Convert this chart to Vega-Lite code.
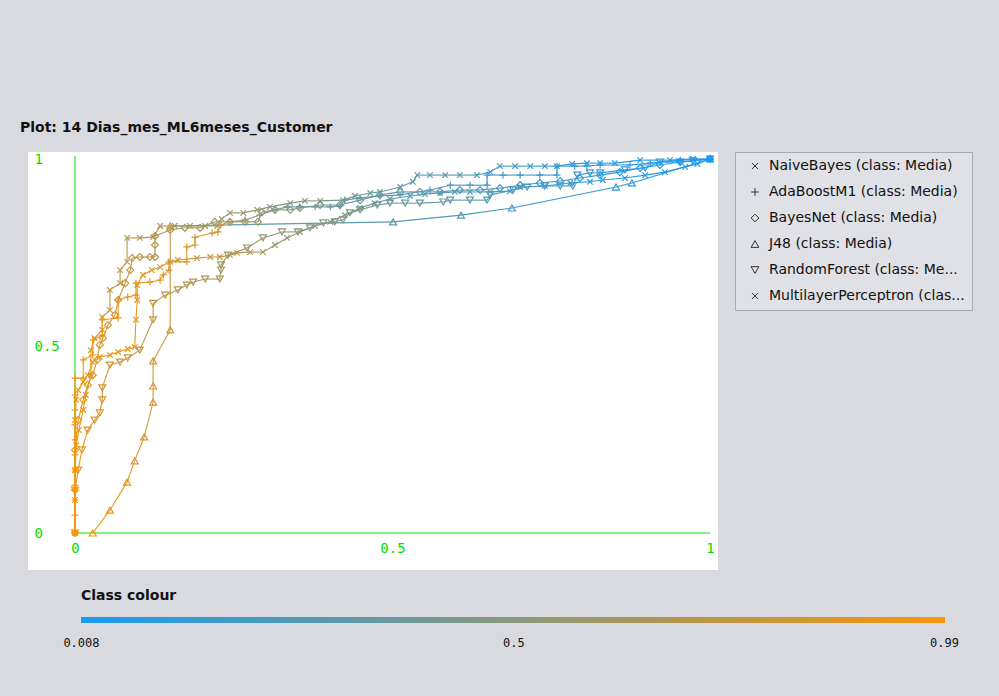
{
  "$schema": "https://vega.github.io/schema/vega-lite/v6.json",
  "autosize": {"type": "none"},
  "padding": {"left": 28, "top": 152, "right": 281, "bottom": 126},
  "width": 690,
  "height": 418,
  "background": "#d8dadf",
  "title": {"text": "Plot: 14 Dias_mes_ML6meses_Customer", "anchor": "start", "frame": "group", "dx": -8, "offset": 3, "font": "DejaVu Sans", "fontSize": 14, "fontWeight": "bold", "color": "#111111", "baseline": "bottom"},
  "config": {
    "view": {"fill": "#ffffff", "stroke": null},
    "axisX": {"offset": -37, "domain": false, "ticks": false, "tickSize": 0, "grid": false, "labelPadding": 8, "labelFont": "DejaVu Sans Mono", "labelFontSize": 14, "labelColor": "#00e000", "labelFlush": false, "labelBaseline": "top"},
    "axisY": {"offset": -47, "domain": false, "ticks": false, "tickSize": 0, "grid": false, "labelAlign": "left", "labelPadding": 41, "labelBaseline": "middle", "labelFont": "DejaVu Sans Mono", "labelFontSize": 14, "labelColor": "#00e000", "labelFlush": false}
  },
  "datasets": {
    "roc": [
      {"c":"NaiveBayes","x":0,"y":0,"t":0.99},{"c":"NaiveBayes","x":0,"y":0.088,"t":0.98},{"c":"NaiveBayes","x":0,"y":0.168,"t":0.97},{"c":"NaiveBayes","x":0.002,"y":0.235,"t":0.96},{"c":"NaiveBayes","x":0.006,"y":0.275,"t":0.95},{"c":"NaiveBayes","x":0.013,"y":0.329,"t":0.93},{"c":"NaiveBayes","x":0.017,"y":0.369,"t":0.91},{"c":"NaiveBayes","x":0.025,"y":0.422,"t":0.89},{"c":"NaiveBayes","x":0.025,"y":0.489,"t":0.87},{"c":"NaiveBayes","x":0.031,"y":0.521,"t":0.85},{"c":"NaiveBayes","x":0.043,"y":0.543,"t":0.83},{"c":"NaiveBayes","x":0.043,"y":0.578,"t":0.82},{"c":"NaiveBayes","x":0.055,"y":0.596,"t":0.8},{"c":"NaiveBayes","x":0.055,"y":0.65,"t":0.78},{"c":"NaiveBayes","x":0.071,"y":0.668,"t":0.76},{"c":"NaiveBayes","x":0.071,"y":0.703,"t":0.74},{"c":"NaiveBayes","x":0.082,"y":0.725,"t":0.72},{"c":"NaiveBayes","x":0.082,"y":0.789,"t":0.7},{"c":"NaiveBayes","x":0.102,"y":0.789,"t":0.69},{"c":"NaiveBayes","x":0.123,"y":0.791,"t":0.68},{"c":"NaiveBayes","x":0.134,"y":0.821,"t":0.66},{"c":"NaiveBayes","x":0.157,"y":0.821,"t":0.65},{"c":"NaiveBayes","x":0.181,"y":0.821,"t":0.64},{"c":"NaiveBayes","x":0.205,"y":0.821,"t":0.62},{"c":"NaiveBayes","x":0.224,"y":0.821,"t":0.61},{"c":"NaiveBayes","x":0.231,"y":0.84,"t":0.6},{"c":"NaiveBayes","x":0.244,"y":0.856,"t":0.58},{"c":"NaiveBayes","x":0.265,"y":0.856,"t":0.57},{"c":"NaiveBayes","x":0.287,"y":0.864,"t":0.55},{"c":"NaiveBayes","x":0.307,"y":0.872,"t":0.53},{"c":"NaiveBayes","x":0.339,"y":0.882,"t":0.5},{"c":"NaiveBayes","x":0.362,"y":0.888,"t":0.48},{"c":"NaiveBayes","x":0.386,"y":0.888,"t":0.46},{"c":"NaiveBayes","x":0.422,"y":0.89,"t":0.43},{"c":"NaiveBayes","x":0.441,"y":0.901,"t":0.41},{"c":"NaiveBayes","x":0.465,"y":0.909,"t":0.39},{"c":"NaiveBayes","x":0.48,"y":0.912,"t":0.37},{"c":"NaiveBayes","x":0.512,"y":0.925,"t":0.34},{"c":"NaiveBayes","x":0.532,"y":0.939,"t":0.32},{"c":"NaiveBayes","x":0.539,"y":0.957,"t":0.31},{"c":"NaiveBayes","x":0.559,"y":0.957,"t":0.3},{"c":"NaiveBayes","x":0.583,"y":0.957,"t":0.28},{"c":"NaiveBayes","x":0.606,"y":0.957,"t":0.26},{"c":"NaiveBayes","x":0.633,"y":0.957,"t":0.24},{"c":"NaiveBayes","x":0.654,"y":0.965,"t":0.22},{"c":"NaiveBayes","x":0.669,"y":0.981,"t":0.2},{"c":"NaiveBayes","x":0.693,"y":0.981,"t":0.18},{"c":"NaiveBayes","x":0.717,"y":0.981,"t":0.16},{"c":"NaiveBayes","x":0.74,"y":0.981,"t":0.14},{"c":"NaiveBayes","x":0.759,"y":0.981,"t":0.13},{"c":"NaiveBayes","x":0.783,"y":0.987,"t":0.11},{"c":"NaiveBayes","x":0.806,"y":0.989,"t":0.09},{"c":"NaiveBayes","x":0.827,"y":0.989,"t":0.08},{"c":"NaiveBayes","x":0.85,"y":0.989,"t":0.07},{"c":"NaiveBayes","x":0.89,"y":0.997,"t":0.05},{"c":"NaiveBayes","x":0.937,"y":0.997,"t":0.04},{"c":"NaiveBayes","x":0.973,"y":1,"t":0.03},{"c":"NaiveBayes","x":1,"y":1,"t":0.01},
      {"c":"BayesNet","x":0,"y":0,"t":0.99},{"c":"BayesNet","x":0,"y":0.115,"t":0.98},{"c":"BayesNet","x":0,"y":0.222,"t":0.97},{"c":"BayesNet","x":0.005,"y":0.302,"t":0.95},{"c":"BayesNet","x":0.013,"y":0.356,"t":0.93},{"c":"BayesNet","x":0.02,"y":0.396,"t":0.91},{"c":"BayesNet","x":0.028,"y":0.422,"t":0.9},{"c":"BayesNet","x":0.035,"y":0.463,"t":0.88},{"c":"BayesNet","x":0.039,"y":0.503,"t":0.86},{"c":"BayesNet","x":0.044,"y":0.521,"t":0.85},{"c":"BayesNet","x":0.052,"y":0.556,"t":0.83},{"c":"BayesNet","x":0.063,"y":0.583,"t":0.81},{"c":"BayesNet","x":0.068,"y":0.623,"t":0.79},{"c":"BayesNet","x":0.079,"y":0.668,"t":0.77},{"c":"BayesNet","x":0.087,"y":0.703,"t":0.75},{"c":"BayesNet","x":0.09,"y":0.735,"t":0.74},{"c":"BayesNet","x":0.102,"y":0.738,"t":0.73},{"c":"BayesNet","x":0.118,"y":0.738,"t":0.72},{"c":"BayesNet","x":0.126,"y":0.738,"t":0.71},{"c":"BayesNet","x":0.126,"y":0.77,"t":0.7},{"c":"BayesNet","x":0.126,"y":0.794,"t":0.69},{"c":"BayesNet","x":0.15,"y":0.81,"t":0.67},{"c":"BayesNet","x":0.173,"y":0.816,"t":0.65},{"c":"BayesNet","x":0.197,"y":0.816,"t":0.63},{"c":"BayesNet","x":0.22,"y":0.832,"t":0.61},{"c":"BayesNet","x":0.244,"y":0.832,"t":0.6},{"c":"BayesNet","x":0.268,"y":0.832,"t":0.58},{"c":"BayesNet","x":0.288,"y":0.832,"t":0.56},{"c":"BayesNet","x":0.294,"y":0.858,"t":0.55},{"c":"BayesNet","x":0.315,"y":0.864,"t":0.53},{"c":"BayesNet","x":0.339,"y":0.864,"t":0.51},{"c":"BayesNet","x":0.354,"y":0.869,"t":0.5},{"c":"BayesNet","x":0.386,"y":0.877,"t":0.47},{"c":"BayesNet","x":0.417,"y":0.877,"t":0.44},{"c":"BayesNet","x":0.449,"y":0.89,"t":0.41},{"c":"BayesNet","x":0.48,"y":0.904,"t":0.38},{"c":"BayesNet","x":0.512,"y":0.912,"t":0.35},{"c":"BayesNet","x":0.543,"y":0.912,"t":0.32},{"c":"BayesNet","x":0.575,"y":0.912,"t":0.3},{"c":"BayesNet","x":0.606,"y":0.917,"t":0.27},{"c":"BayesNet","x":0.638,"y":0.917,"t":0.25},{"c":"BayesNet","x":0.669,"y":0.922,"t":0.22},{"c":"BayesNet","x":0.701,"y":0.93,"t":0.19},{"c":"BayesNet","x":0.732,"y":0.936,"t":0.17},{"c":"BayesNet","x":0.764,"y":0.941,"t":0.15},{"c":"BayesNet","x":0.795,"y":0.949,"t":0.12},{"c":"BayesNet","x":0.827,"y":0.957,"t":0.1},{"c":"BayesNet","x":0.858,"y":0.965,"t":0.08},{"c":"BayesNet","x":0.89,"y":0.976,"t":0.06},{"c":"BayesNet","x":0.921,"y":0.984,"t":0.05},{"c":"BayesNet","x":0.953,"y":0.992,"t":0.03},{"c":"BayesNet","x":1,"y":1,"t":0.01},
      {"c":"AdaBoostM1","x":0,"y":0,"t":0.99},{"c":"AdaBoostM1","x":0,"y":0.048,"t":0.988},{"c":"AdaBoostM1","x":0,"y":0.088,"t":0.986},{"c":"AdaBoostM1","x":0,"y":0.128,"t":0.984},{"c":"AdaBoostM1","x":0,"y":0.168,"t":0.982},{"c":"AdaBoostM1","x":0,"y":0.209,"t":0.98},{"c":"AdaBoostM1","x":0,"y":0.249,"t":0.978},{"c":"AdaBoostM1","x":0,"y":0.289,"t":0.976},{"c":"AdaBoostM1","x":0,"y":0.329,"t":0.974},{"c":"AdaBoostM1","x":0,"y":0.369,"t":0.972},{"c":"AdaBoostM1","x":0,"y":0.414,"t":0.97},{"c":"AdaBoostM1","x":0.013,"y":0.414,"t":0.965},{"c":"AdaBoostM1","x":0.013,"y":0.463,"t":0.96},{"c":"AdaBoostM1","x":0.028,"y":0.476,"t":0.955},{"c":"AdaBoostM1","x":0.028,"y":0.516,"t":0.95},{"c":"AdaBoostM1","x":0.043,"y":0.529,"t":0.945},{"c":"AdaBoostM1","x":0.043,"y":0.57,"t":0.94},{"c":"AdaBoostM1","x":0.068,"y":0.575,"t":0.935},{"c":"AdaBoostM1","x":0.068,"y":0.623,"t":0.93},{"c":"AdaBoostM1","x":0.083,"y":0.631,"t":0.925},{"c":"AdaBoostM1","x":0.096,"y":0.636,"t":0.92},{"c":"AdaBoostM1","x":0.096,"y":0.668,"t":0.915},{"c":"AdaBoostM1","x":0.118,"y":0.671,"t":0.91},{"c":"AdaBoostM1","x":0.134,"y":0.676,"t":0.905},{"c":"AdaBoostM1","x":0.139,"y":0.69,"t":0.9},{"c":"AdaBoostM1","x":0.148,"y":0.703,"t":0.895},{"c":"AdaBoostM1","x":0.148,"y":0.725,"t":0.89},{"c":"AdaBoostM1","x":0.176,"y":0.725,"t":0.88},{"c":"AdaBoostM1","x":0.176,"y":0.765,"t":0.87},{"c":"AdaBoostM1","x":0.189,"y":0.77,"t":0.86},{"c":"AdaBoostM1","x":0.189,"y":0.791,"t":0.85},{"c":"AdaBoostM1","x":0.216,"y":0.802,"t":0.83},{"c":"AdaBoostM1","x":0.225,"y":0.805,"t":0.82},{"c":"AdaBoostM1","x":0.23,"y":0.824,"t":0.8},{"c":"AdaBoostM1","x":0.244,"y":0.832,"t":0.7},{"c":"AdaBoostM1","x":0.268,"y":0.837,"t":0.6},{"c":"AdaBoostM1","x":0.291,"y":0.85,"t":0.5},{"c":"AdaBoostM1","x":0.315,"y":0.864,"t":0.45},{"c":"AdaBoostM1","x":0.334,"y":0.872,"t":0.4},{"c":"AdaBoostM1","x":0.354,"y":0.872,"t":0.38},{"c":"AdaBoostM1","x":0.378,"y":0.872,"t":0.37},{"c":"AdaBoostM1","x":0.402,"y":0.872,"t":0.36},{"c":"AdaBoostM1","x":0.417,"y":0.874,"t":0.35},{"c":"AdaBoostM1","x":0.425,"y":0.89,"t":0.33},{"c":"AdaBoostM1","x":0.449,"y":0.896,"t":0.31},{"c":"AdaBoostM1","x":0.48,"y":0.901,"t":0.29},{"c":"AdaBoostM1","x":0.512,"y":0.904,"t":0.27},{"c":"AdaBoostM1","x":0.559,"y":0.917,"t":0.25},{"c":"AdaBoostM1","x":0.591,"y":0.93,"t":0.23},{"c":"AdaBoostM1","x":0.622,"y":0.93,"t":0.21},{"c":"AdaBoostM1","x":0.649,"y":0.93,"t":0.2},{"c":"AdaBoostM1","x":0.649,"y":0.957,"t":0.19},{"c":"AdaBoostM1","x":0.674,"y":0.957,"t":0.18},{"c":"AdaBoostM1","x":0.701,"y":0.957,"t":0.17},{"c":"AdaBoostM1","x":0.732,"y":0.957,"t":0.16},{"c":"AdaBoostM1","x":0.759,"y":0.957,"t":0.15},{"c":"AdaBoostM1","x":0.759,"y":0.981,"t":0.14},{"c":"AdaBoostM1","x":0.787,"y":0.981,"t":0.13},{"c":"AdaBoostM1","x":0.806,"y":0.981,"t":0.12},{"c":"AdaBoostM1","x":0.827,"y":0.984,"t":0.1},{"c":"AdaBoostM1","x":0.874,"y":0.984,"t":0.08},{"c":"AdaBoostM1","x":0.906,"y":0.989,"t":0.06},{"c":"AdaBoostM1","x":0.953,"y":0.997,"t":0.04},{"c":"AdaBoostM1","x":1,"y":1,"t":0.01},
      {"c":"J48","x":0.028,"y":0,"t":0.99},{"c":"J48","x":0.055,"y":0.061,"t":0.95},{"c":"J48","x":0.082,"y":0.136,"t":0.9},{"c":"J48","x":0.094,"y":0.193,"t":0.87},{"c":"J48","x":0.109,"y":0.257,"t":0.85},{"c":"J48","x":0.123,"y":0.35,"t":0.83},{"c":"J48","x":0.123,"y":0.393,"t":0.82},{"c":"J48","x":0.123,"y":0.46,"t":0.81},{"c":"J48","x":0.15,"y":0.543,"t":0.78},{"c":"J48","x":0.15,"y":0.821,"t":0.75},{"c":"J48","x":0.501,"y":0.832,"t":0.3},{"c":"J48","x":0.608,"y":0.85,"t":0.25},{"c":"J48","x":0.688,"y":0.869,"t":0.2},{"c":"J48","x":0.852,"y":0.925,"t":0.12},{"c":"J48","x":0.877,"y":0.936,"t":0.1},{"c":"J48","x":1,"y":1,"t":0.01},
      {"c":"MultilayerPerceptron","x":0,"y":0,"t":0.99},{"c":"MultilayerPerceptron","x":0,"y":0.168,"t":0.985},{"c":"MultilayerPerceptron","x":0,"y":0.302,"t":0.98},{"c":"MultilayerPerceptron","x":0.002,"y":0.356,"t":0.975},{"c":"MultilayerPerceptron","x":0.005,"y":0.382,"t":0.97},{"c":"MultilayerPerceptron","x":0.013,"y":0.404,"t":0.965},{"c":"MultilayerPerceptron","x":0.02,"y":0.422,"t":0.96},{"c":"MultilayerPerceptron","x":0.028,"y":0.457,"t":0.955},{"c":"MultilayerPerceptron","x":0.039,"y":0.471,"t":0.95},{"c":"MultilayerPerceptron","x":0.055,"y":0.476,"t":0.945},{"c":"MultilayerPerceptron","x":0.068,"y":0.484,"t":0.94},{"c":"MultilayerPerceptron","x":0.083,"y":0.492,"t":0.935},{"c":"MultilayerPerceptron","x":0.094,"y":0.497,"t":0.93},{"c":"MultilayerPerceptron","x":0.096,"y":0.57,"t":0.92},{"c":"MultilayerPerceptron","x":0.098,"y":0.623,"t":0.91},{"c":"MultilayerPerceptron","x":0.098,"y":0.663,"t":0.9},{"c":"MultilayerPerceptron","x":0.107,"y":0.69,"t":0.89},{"c":"MultilayerPerceptron","x":0.121,"y":0.703,"t":0.88},{"c":"MultilayerPerceptron","x":0.134,"y":0.711,"t":0.87},{"c":"MultilayerPerceptron","x":0.15,"y":0.725,"t":0.86},{"c":"MultilayerPerceptron","x":0.162,"y":0.73,"t":0.84},{"c":"MultilayerPerceptron","x":0.192,"y":0.735,"t":0.8},{"c":"MultilayerPerceptron","x":0.213,"y":0.738,"t":0.77},{"c":"MultilayerPerceptron","x":0.228,"y":0.738,"t":0.75},{"c":"MultilayerPerceptron","x":0.244,"y":0.743,"t":0.72},{"c":"MultilayerPerceptron","x":0.255,"y":0.749,"t":0.7},{"c":"MultilayerPerceptron","x":0.276,"y":0.751,"t":0.67},{"c":"MultilayerPerceptron","x":0.296,"y":0.751,"t":0.64},{"c":"MultilayerPerceptron","x":0.315,"y":0.77,"t":0.6},{"c":"MultilayerPerceptron","x":0.334,"y":0.789,"t":0.56},{"c":"MultilayerPerceptron","x":0.354,"y":0.805,"t":0.52},{"c":"MultilayerPerceptron","x":0.378,"y":0.821,"t":0.49},{"c":"MultilayerPerceptron","x":0.402,"y":0.832,"t":0.46},{"c":"MultilayerPerceptron","x":0.425,"y":0.85,"t":0.43},{"c":"MultilayerPerceptron","x":0.449,"y":0.869,"t":0.4},{"c":"MultilayerPerceptron","x":0.472,"y":0.882,"t":0.37},{"c":"MultilayerPerceptron","x":0.496,"y":0.893,"t":0.34},{"c":"MultilayerPerceptron","x":0.528,"y":0.901,"t":0.31},{"c":"MultilayerPerceptron","x":0.551,"y":0.906,"t":0.29},{"c":"MultilayerPerceptron","x":0.575,"y":0.909,"t":0.27},{"c":"MultilayerPerceptron","x":0.598,"y":0.912,"t":0.25},{"c":"MultilayerPerceptron","x":0.622,"y":0.912,"t":0.23},{"c":"MultilayerPerceptron","x":0.654,"y":0.912,"t":0.21},{"c":"MultilayerPerceptron","x":0.685,"y":0.914,"t":0.19},{"c":"MultilayerPerceptron","x":0.701,"y":0.925,"t":0.17},{"c":"MultilayerPerceptron","x":0.74,"y":0.928,"t":0.15},{"c":"MultilayerPerceptron","x":0.78,"y":0.936,"t":0.13},{"c":"MultilayerPerceptron","x":0.811,"y":0.939,"t":0.11},{"c":"MultilayerPerceptron","x":0.831,"y":0.944,"t":0.1},{"c":"MultilayerPerceptron","x":0.866,"y":0.949,"t":0.08},{"c":"MultilayerPerceptron","x":0.898,"y":0.957,"t":0.07},{"c":"MultilayerPerceptron","x":0.929,"y":0.965,"t":0.05},{"c":"MultilayerPerceptron","x":0.961,"y":0.979,"t":0.04},{"c":"MultilayerPerceptron","x":0.98,"y":0.987,"t":0.03},{"c":"MultilayerPerceptron","x":1,"y":1,"t":0.01},
      {"c":"RandomForest","x":0,"y":0,"t":0.99},{"c":"RandomForest","x":0,"y":0.115,"t":0.97},{"c":"RandomForest","x":0.005,"y":0.168,"t":0.95},{"c":"RandomForest","x":0.011,"y":0.222,"t":0.93},{"c":"RandomForest","x":0.02,"y":0.275,"t":0.9},{"c":"RandomForest","x":0.031,"y":0.302,"t":0.88},{"c":"RandomForest","x":0.039,"y":0.321,"t":0.86},{"c":"RandomForest","x":0.043,"y":0.356,"t":0.84},{"c":"RandomForest","x":0.043,"y":0.388,"t":0.82},{"c":"RandomForest","x":0.055,"y":0.449,"t":0.8},{"c":"RandomForest","x":0.071,"y":0.457,"t":0.79},{"c":"RandomForest","x":0.083,"y":0.468,"t":0.78},{"c":"RandomForest","x":0.102,"y":0.489,"t":0.77},{"c":"RandomForest","x":0.123,"y":0.57,"t":0.76},{"c":"RandomForest","x":0.123,"y":0.614,"t":0.75},{"c":"RandomForest","x":0.142,"y":0.636,"t":0.72},{"c":"RandomForest","x":0.162,"y":0.65,"t":0.69},{"c":"RandomForest","x":0.176,"y":0.663,"t":0.67},{"c":"RandomForest","x":0.186,"y":0.671,"t":0.66},{"c":"RandomForest","x":0.205,"y":0.679,"t":0.65},{"c":"RandomForest","x":0.228,"y":0.679,"t":0.63},{"c":"RandomForest","x":0.23,"y":0.703,"t":0.62},{"c":"RandomForest","x":0.23,"y":0.717,"t":0.61},{"c":"RandomForest","x":0.241,"y":0.743,"t":0.6},{"c":"RandomForest","x":0.271,"y":0.762,"t":0.58},{"c":"RandomForest","x":0.296,"y":0.789,"t":0.56},{"c":"RandomForest","x":0.326,"y":0.805,"t":0.54},{"c":"RandomForest","x":0.351,"y":0.805,"t":0.53},{"c":"RandomForest","x":0.37,"y":0.816,"t":0.51},{"c":"RandomForest","x":0.391,"y":0.829,"t":0.49},{"c":"RandomForest","x":0.409,"y":0.832,"t":0.47},{"c":"RandomForest","x":0.422,"y":0.837,"t":0.46},{"c":"RandomForest","x":0.433,"y":0.856,"t":0.44},{"c":"RandomForest","x":0.449,"y":0.864,"t":0.43},{"c":"RandomForest","x":0.476,"y":0.877,"t":0.41},{"c":"RandomForest","x":0.496,"y":0.882,"t":0.39},{"c":"RandomForest","x":0.52,"y":0.882,"t":0.37},{"c":"RandomForest","x":0.543,"y":0.882,"t":0.36},{"c":"RandomForest","x":0.58,"y":0.885,"t":0.34},{"c":"RandomForest","x":0.591,"y":0.89,"t":0.32},{"c":"RandomForest","x":0.622,"y":0.89,"t":0.3},{"c":"RandomForest","x":0.649,"y":0.89,"t":0.29},{"c":"RandomForest","x":0.654,"y":0.904,"t":0.27},{"c":"RandomForest","x":0.69,"y":0.917,"t":0.25},{"c":"RandomForest","x":0.712,"y":0.925,"t":0.23},{"c":"RandomForest","x":0.74,"y":0.928,"t":0.21},{"c":"RandomForest","x":0.764,"y":0.928,"t":0.2},{"c":"RandomForest","x":0.784,"y":0.928,"t":0.18},{"c":"RandomForest","x":0.791,"y":0.957,"t":0.16},{"c":"RandomForest","x":0.811,"y":0.963,"t":0.14},{"c":"RandomForest","x":0.827,"y":0.963,"t":0.13},{"c":"RandomForest","x":0.866,"y":0.971,"t":0.1},{"c":"RandomForest","x":0.898,"y":0.976,"t":0.08},{"c":"RandomForest","x":0.921,"y":0.992,"t":0.06},{"c":"RandomForest","x":0.953,"y":0.992,"t":0.05},{"c":"RandomForest","x":0.973,"y":0.995,"t":0.03},{"c":"RandomForest","x":1,"y":1,"t":0.01}
    ]
  },
  "layer": [
    {
      "data": {"values": [{}]},
      "mark": {"type": "rule", "color": "#00e000", "strokeWidth": 1},
      "encoding": {
        "x": {"datum": 0, "type": "quantitative", "scale": {"domain": [-0.074016, 1.012598], "nice": false, "zero": false}, "axis": {"values": [0, 0.5, 1], "format": "~g", "title": null}},
        "y": {"datum": 0, "type": "quantitative", "scale": {"domain": [-0.09893, 1.018717], "nice": false, "zero": false}, "axis": {"values": [0, 0.5, 1], "format": "~g", "title": null}},
        "y2": {"datum": 1.008}
      }
    },
    {
      "data": {"values": [{}]},
      "mark": {"type": "rule", "color": "#00e000", "strokeWidth": 1},
      "encoding": {
        "x": {"datum": 0, "type": "quantitative", "scale": {"domain": [-0.074016, 1.012598], "nice": false, "zero": false}, "axis": {"values": [0, 0.5, 1], "format": "~g", "title": null}},
        "x2": {"datum": 1},
        "y": {"datum": 0, "type": "quantitative", "scale": {"domain": [-0.09893, 1.018717], "nice": false, "zero": false}, "axis": {"values": [0, 0.5, 1], "format": "~g", "title": null}}
      }
    },
    {
      "data": {"name": "roc"},
      "transform": [
        {"window": [{"op": "lag", "field": "x", "as": "px"}, {"op": "lag", "field": "y", "as": "py"}], "groupby": ["c"], "sort": [{"field": "x"}, {"field": "y"}]},
        {"filter": "datum.px != null"}
      ],
      "mark": {"type": "rule", "strokeWidth": 1.1},
      "encoding": {
        "x": {"field": "x", "type": "quantitative", "scale": {"domain": [-0.074016, 1.012598], "nice": false, "zero": false}, "axis": {"values": [0, 0.5, 1], "format": "~g", "title": null}},
        "y": {"field": "y", "type": "quantitative", "scale": {"domain": [-0.09893, 1.018717], "nice": false, "zero": false}, "axis": {"values": [0, 0.5, 1], "format": "~g", "title": null}},
        "x2": {"field": "px"},
        "y2": {"field": "py"},
        "color": {"field": "t", "type": "quantitative", "scale": {"domain": [0.0075, 0.9905], "range": ["#1a9af0", "#f8960a"], "interpolate": "rgb"},
          "legend": {"orient": "none", "legendX": 53, "legendY": 437, "direction": "horizontal", "title": "Class colour", "titleFont": "DejaVu Sans", "titleFontSize": 14, "titleFontWeight": "bold", "titleColor": "#111111", "titlePadding": 14, "gradientLength": 864, "gradientThickness": 6, "gradientStrokeWidth": 0, "values": [0.008, 0.5, 0.99], "format": "~g", "labelFont": "DejaVu Sans Mono", "labelFontSize": 12, "labelColor": "#111111", "labelOffset": 15}}
      }
    },
    {
      "data": {"name": "roc"},
      "mark": {"type": "point", "filled": false, "strokeWidth": 1.2, "size": 48, "opacity": 1},
      "encoding": {
        "x": {"field": "x", "type": "quantitative", "scale": {"domain": [-0.074016, 1.012598], "nice": false, "zero": false}, "axis": {"values": [0, 0.5, 1], "format": "~g", "title": null}},
        "y": {"field": "y", "type": "quantitative", "scale": {"domain": [-0.09893, 1.018717], "nice": false, "zero": false}, "axis": {"values": [0, 0.5, 1], "format": "~g", "title": null}},
        "color": {"field": "t", "type": "quantitative", "scale": {"domain": [0.0075, 0.9905], "range": ["#1a9af0", "#f8960a"], "interpolate": "rgb"},
          "legend": {"orient": "none", "legendX": 53, "legendY": 437, "direction": "horizontal", "title": "Class colour", "titleFont": "DejaVu Sans", "titleFontSize": 14, "titleFontWeight": "bold", "titleColor": "#111111", "titlePadding": 14, "gradientLength": 864, "gradientThickness": 6, "gradientStrokeWidth": 0, "values": [0.008, 0.5, 0.99], "format": "~g", "labelFont": "DejaVu Sans Mono", "labelFontSize": 12, "labelColor": "#111111", "labelOffset": 15}},
        "shape": {"field": "c", "type": "nominal",
          "scale": {"domain": ["NaiveBayes", "AdaBoostM1", "BayesNet", "J48", "RandomForest", "MultilayerPerceptron"], "range": ["M-0.8,-0.8L0.8,0.8M0.8,-0.8L-0.8,0.8", "M-1,0L1,0M0,-1L0,1", "diamond", "triangle-up", "triangle-down", "M-0.8,-0.8L0.8,0.8M0.8,-0.8L-0.8,0.8"]},
          "legend": {"orient": "none", "legendX": 707, "legendY": 0, "title": null, "fillColor": "#dfe1e6", "strokeColor": "#a7a9ae", "padding": 7, "symbolOffset": 6, "rowPadding": 12, "symbolSize": 60, "symbolStrokeColor": "#333333", "symbolStrokeWidth": 1, "symbolFillColor": "transparent", "labelFont": "DejaVu Sans", "labelFontSize": 14, "labelColor": "#111111", "labelOffset": 7, "labelLimit": 240,
            "labelExpr": "datum.label == 'RandomForest' ? 'RandomForest (class: Me...' : datum.label == 'MultilayerPerceptron' ? 'MultilayerPerceptron (clas...' : datum.label + ' (class: Media)'"}}
      }
    }
  ]
}
